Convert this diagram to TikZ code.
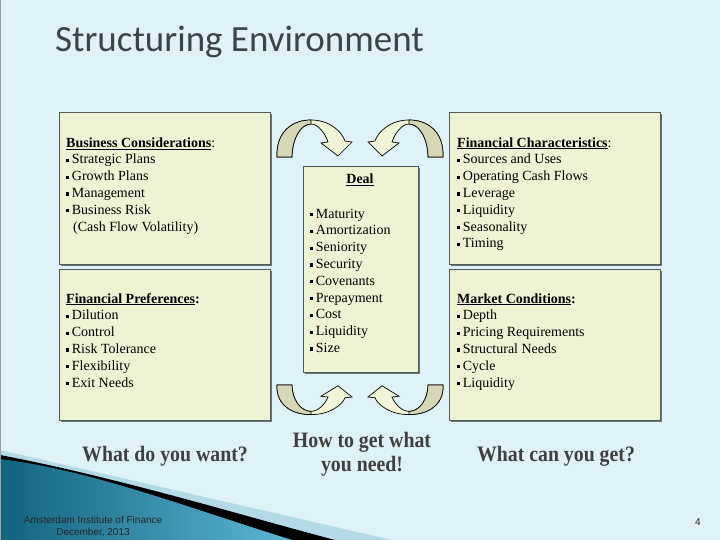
\documentclass[tikz,border=0pt]{standalone}
\usepackage{fontspec}
\setmainfont{Liberation Serif}
\newfontfamily\titlefont{Carlito}
\newfontfamily\footfont{Liberation Sans}
\usetikzlibrary{shadows}

\definecolor{slidebg}{HTML}{DFF2F7}
\definecolor{boxfill}{HTML}{EEF4D3}
\definecolor{boxline}{HTML}{4F5A5A}
\definecolor{arrowlight}{HTML}{F1F5D8}
\definecolor{arrowdark}{HTML}{D5D8B6}
\definecolor{titlegray}{HTML}{3B4448}
\definecolor{tealdark}{HTML}{12637D}
\definecolor{teallight}{HTML}{5DB6D4}
\definecolor{bandlight}{HTML}{B3DAE6}

\newcommand{\bul}{\rule[2pt]{3.2pt}{3.2pt}\hspace{2.5pt}}

\tikzset{
  turnarrow/.pic={
    \draw[line width=0.7pt, fill=arrowlight]
      (0,0) .. controls (-1,-25) and (15,-37) .. (34,-37)
      .. controls (53,-37) and (65,-25) .. (68,-16) -- (75,-15) -- (61,-1)
      -- (44,-14) -- (51,-15) .. controls (48,-24) and (41,-33) .. (34,-33)
      .. controls (23,-33) and (15,-17) .. (15,0) -- cycle;
    \draw[line width=0.7pt, fill=arrowdark]
      (0,0) .. controls (-1,-25) and (15,-37) .. (34,-37) -- (34,-33)
      .. controls (23,-33) and (15,-17) .. (15,0) -- cycle;
  }
}

\begin{document}
\begin{tikzpicture}[x=1pt, y=-1pt,
  panel/.style={draw=boxline, line width=1pt, fill=boxfill, inner sep=0pt,
    drop shadow={shadow xshift=1.5pt, shadow yshift=-1.5pt, fill=black!55, opacity=1}},
  listtext/.style={anchor=north west, inner sep=0pt, align=left,
    font=\fontsize{14}{16.8}\selectfont},
  question/.style={inner sep=0pt, align=center, xscale=0.9, text=black!75,
    font=\fontsize{22}{24}\selectfont\bfseries},
  footer/.style={inner sep=0pt, align=center, text=black!85,
    font=\footfont\fontsize{10}{12}\selectfont}
]
  % slide background
  \fill[slidebg] (0,0) rectangle (720,540);
  \useasboundingbox (0,0) rectangle (720,540);

  % corner decoration
  \fill[bandlight] (0,450) -- (392,540) -- (0,540) -- cycle;
  \fill[black] (0,455) .. controls (120,478) and (240,515) .. (335,540) -- (0,540) -- cycle;
  \shade[left color=tealdark, right color=teallight]
    (0,459) .. controls (90,470) and (180,505) .. (292,540) -- (0,540) -- cycle;

  % title
  \node[anchor=base west, inner sep=0pt, text=titlegray,
        font=\titlefont\fontsize{37}{42}\selectfont] (title) at (55,52) {Structuring Environment};

  % panels
  \node[panel, minimum width=211pt, minimum height=151pt] (bizbox)  at (164.5,188.5) {};
  \node[panel, minimum width=211pt, minimum height=151pt] (prefbox) at (164.5,344.5) {};
  \node[panel, minimum width=211pt, minimum height=151pt] (finbox)  at (554.5,188.5) {};
  \node[panel, minimum width=211pt, minimum height=151pt] (mktbox)  at (554.5,344.5) {};
  \node[panel, minimum width=115pt, minimum height=205pt] (dealbox) at (360.5,269.5) {};

  % panel texts
  \node[listtext] (biztext) at (66,135.2) {\strut\underline{\textbf{Business Considerations}}:\\
    \bul Strategic Plans\\ \bul Growth Plans\\ \bul Management\\ \bul Business Risk\\
    \hspace{7pt}(Cash Flow Volatility)};
  \node[listtext] (preftext) at (66,291.2) {\strut\underline{\textbf{Financial Preferences}}\textbf{:}\\
    \bul Dilution\\ \bul Control\\ \bul Risk Tolerance\\ \bul Flexibility\\ \bul Exit Needs};
  \node[listtext] (fintext) at (457,135.2) {\strut\underline{\textbf{Financial Characteristics}}:\\
    \bul Sources and Uses\\ \bul Operating Cash Flows\\ \bul Leverage\\ \bul Liquidity\\
    \bul Seasonality\\ \bul Timing};
  \node[listtext] (mkttext) at (457,291.2) {\strut\underline{\textbf{Market Conditions}}\textbf{:}\\
    \bul Depth\\ \bul Pricing Requirements\\ \bul Structural Needs\\ \bul Cycle\\ \bul Liquidity};
  \node[listtext, anchor=base] (dealhead) at (360,184) {\underline{\textbf{Deal}}};
  \node[listtext] (dealtext) at (310,206.2) {\strut\bul Maturity\\ \bul Amortization\\ \bul Seniority\\
    \bul Security\\ \bul Covenants\\ \bul Prepayment\\ \bul Cost\\ \bul Liquidity\\ \bul Size};

  % turning arrows
  \pic at (277,157) {turnarrow};
  \pic[xscale=-1] at (443,157) {turnarrow};
  \pic[yscale=-0.8] at (277,385) {turnarrow};
  \pic[xscale=-1, yscale=-0.8] at (443,385) {turnarrow};

  % questions
  \node[question, anchor=base] (want) at (165,461) {What do you want?};
  \node[question] (need) at (362,454) {How to get what\\you need!};
  \node[question, anchor=base] (get) at (556,461) {What can you get?};

  % footer
  \node[footer] (inst) at (93,527) {Amsterdam Institute of Finance\\December, 2013};
  \node[footer] (pageno) at (698,522) {4};

  \draw[gray!75, line width=1pt] (0,0) rectangle (720,540);
\end{tikzpicture}
\end{document}
